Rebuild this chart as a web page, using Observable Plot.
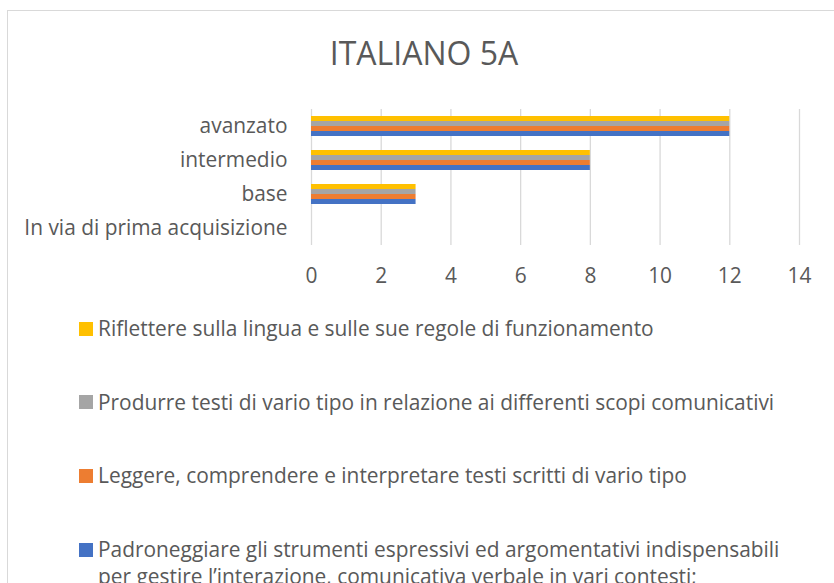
<!DOCTYPE html>
<html>
<head>
<meta charset="utf-8">
<script src="https://cdn.jsdelivr.net/npm/d3@7"></script>
<script src="https://cdn.jsdelivr.net/npm/@observablehq/plot@0.6"></script>
<style>
  html, body { margin: 0; padding: 0; background: #fff; overflow: hidden; width: 834px; height: 583px; }
  #frame { position: absolute; left: 7px; top: 10px; width: 900px; height: 700px; border: 1px solid #d9d9d9; box-sizing: border-box; }
  #title { position: absolute; left: 0; top: 31px; width: 848px; text-align: center; font-family: 'Open Sans', sans-serif; font-size: 32px; line-height: 44px; color: #595959; }
  #chart { position: absolute; left: 0; top: 0; }
  #legend { position: absolute; left: 79px; top: 315px; font-family: 'Open Sans', sans-serif; font-size: 20.9px; color: #595959; }
  .item { display: flex; align-items: flex-start; line-height: 27px; height: 27px; margin-bottom: 46.7px; white-space: nowrap; }
  .sw { width: 14px; height: 14px; margin-top: 6.5px; margin-right: 5px; flex: none; }
</style>
</head>
<body>
<div id="frame"></div>
<div id="title"></div>
<div id="chart"></div>
<div id="legend"></div>
<script>
const title = "ITALIANO 5A";
const categories = ["avanzato", "intermedio", "base", "In via di prima acquisizione"];
const seriesNames = [
  "Padroneggiare gli strumenti espressivi ed argomentativi indispensabili per gestire l’interazione, comunicativa verbale in vari contesti;",
  "Leggere, comprendere e interpretare testi scritti di vario tipo",
  "Produrre testi di vario tipo in relazione ai differenti scopi comunicativi",
  "Riflettere sulla lingua e sulle sue regole di funzionamento"
];
const padroneggiare = [12, 8, 3, 0];
const leggere = [12, 8, 3, 0];
const produrre = [12, 8, 3, 0];
const riflettere = [12, 8, 3, 0];
const seriesColors = ["#4472C4", "#ED7D31", "#A5A5A5", "#FFC000"];
const xTicks = [0, 2, 4, 6, 8, 10, 12, 14];

const seriesValues = [padroneggiare, leggere, produrre, riflettere];
const data = [];
seriesNames.forEach((s, i) => categories.forEach((c, j) => data.push({series: s, category: c, value: seriesValues[i][j]})));

document.getElementById("title").textContent = title;

const chart = Plot.plot({
  width: 834,
  height: 300,
  marginTop: 108,
  marginBottom: 55,
  marginLeft: 311,
  marginRight: 35,
  style: {fontFamily: "'Open Sans', sans-serif", fontSize: "20.9px", color: "#595959", background: "transparent"},
  x: {domain: [0, 14], axis: null},
  fy: {domain: categories, padding: 0, axis: null},
  y: {domain: seriesNames.slice().reverse(), paddingInner: 0, paddingOuter: 1, axis: null},
  color: {domain: seriesNames, range: seriesColors},
  marks: [
    Plot.gridX(xTicks, {stroke: "#d9d9d9", strokeOpacity: 1, strokeWidth: 1.3}),
    Plot.barX(data, {x: "value", y: "series", fy: "category", fill: "series"}),
    Plot.axisX(xTicks, {anchor: "bottom", tickSize: 0, tickPadding: 23, fontSize: 20.9, fill: "#595959", label: null}),
    Plot.axisFy({anchor: "left", tickSize: 0, tickPadding: 24, fontSize: 20.9, fill: "#595959", label: null})
  ]
});
document.getElementById("chart").appendChild(chart);

const legend = document.getElementById("legend");
seriesNames.slice().reverse().forEach((s) => {
  const i = seriesNames.indexOf(s);
  const item = document.createElement("div");
  item.className = "item";
  const sw = document.createElement("div");
  sw.className = "sw";
  sw.style.background = seriesColors[i];
  const t = document.createElement("div");
  if (i === 0) {
    const k = s.indexOf(" per gestire");
    t.appendChild(document.createTextNode(s.slice(0, k)));
    t.appendChild(document.createElement("br"));
    t.appendChild(document.createTextNode(s.slice(k + 1)));
  } else {
    t.textContent = s;
  }
  item.appendChild(sw);
  item.appendChild(t);
  legend.appendChild(item);
});
</script>
</body>
</html>
